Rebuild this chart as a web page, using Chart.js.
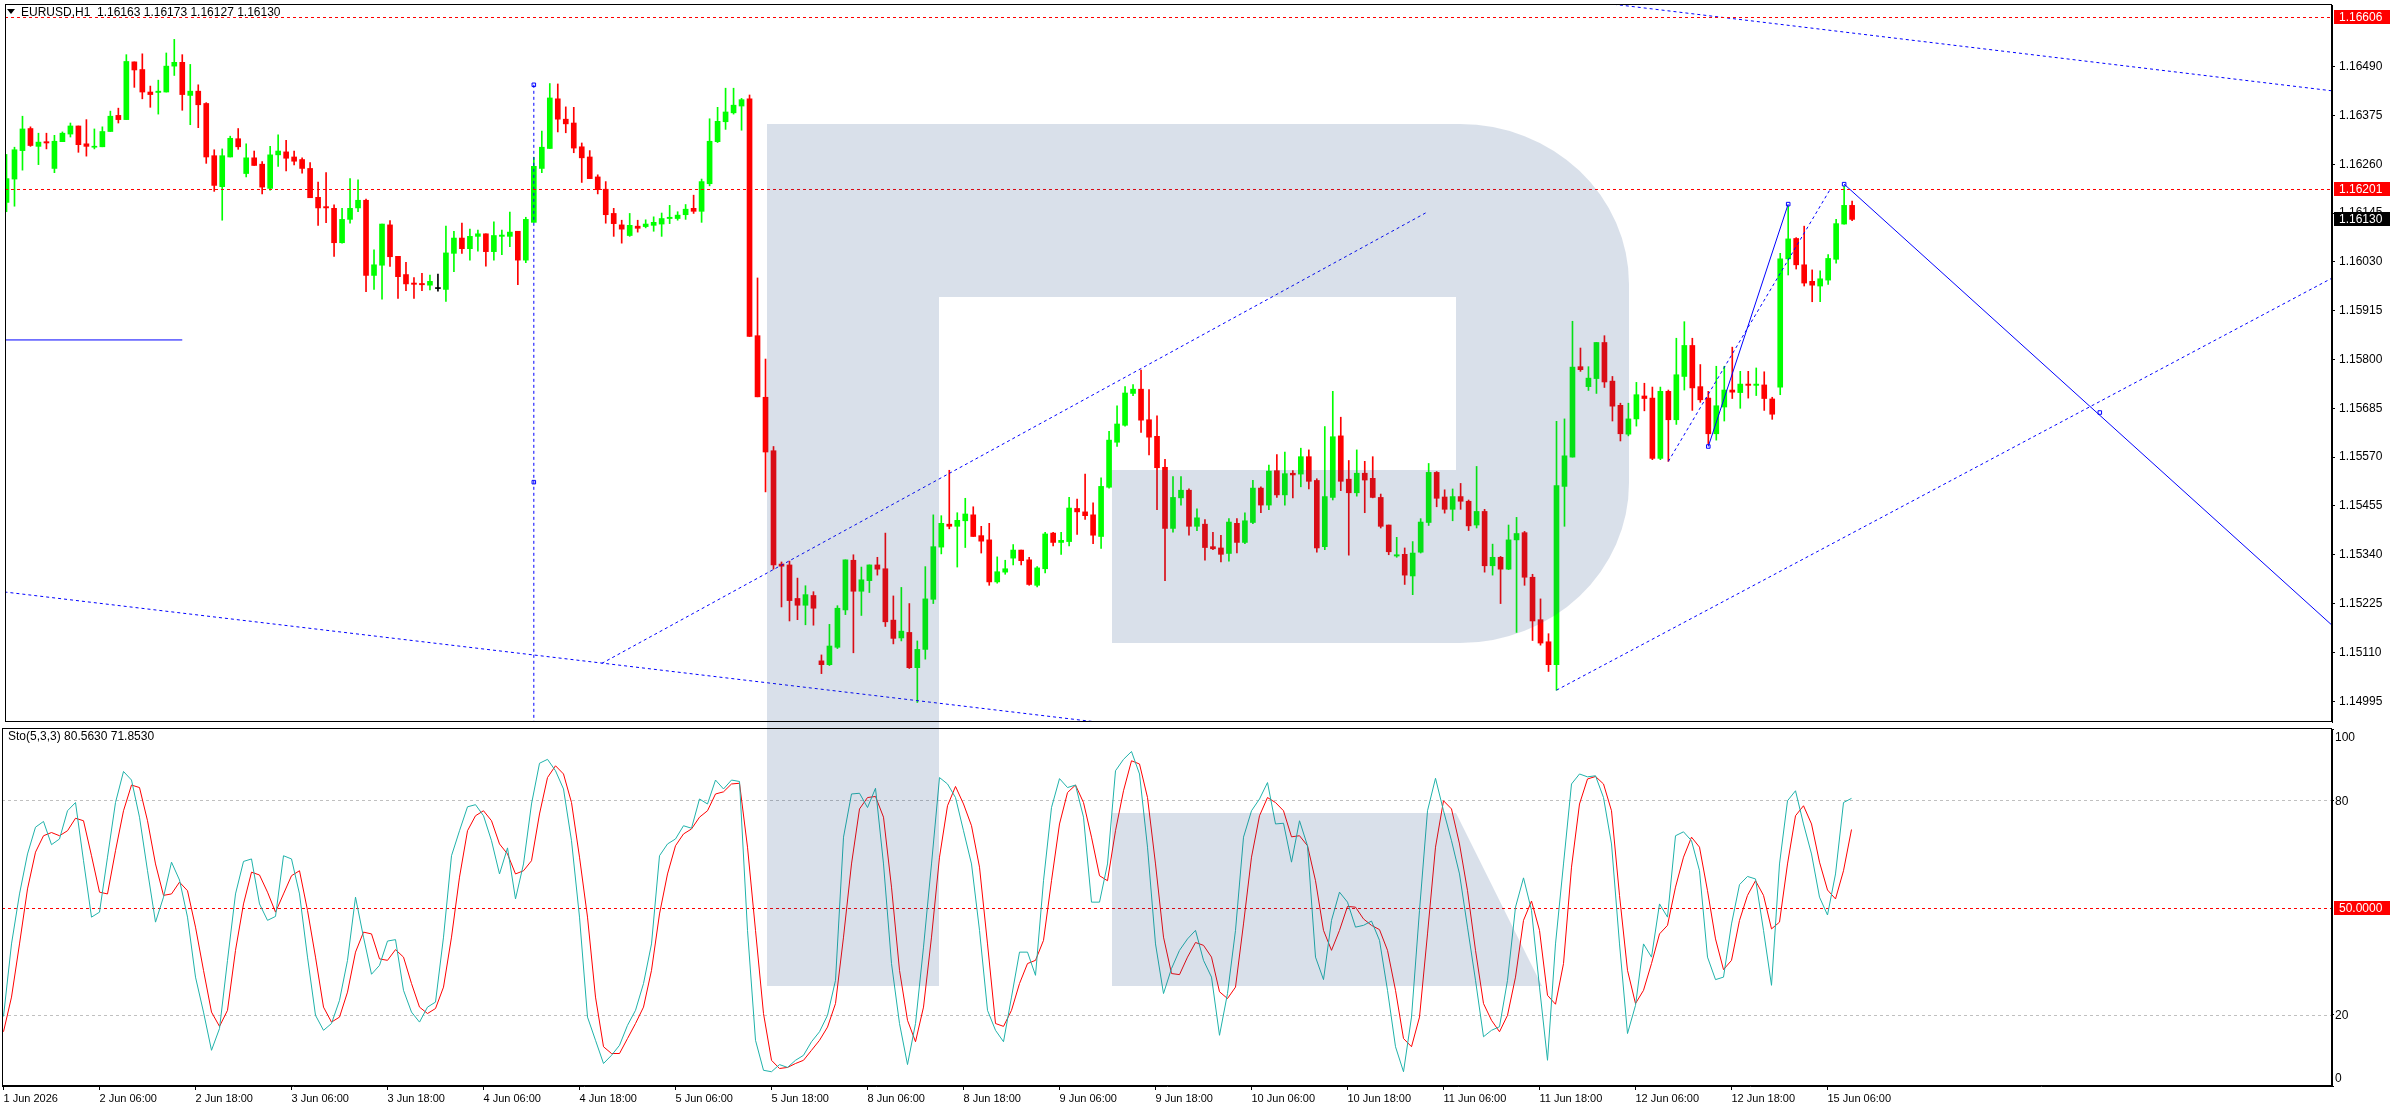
<!DOCTYPE html>
<html lang="en">
<head>
<meta charset="UTF-8">
<title>EURUSD,H1</title>
<script src="https://cdn.jsdelivr.net/npm/chart.js"></script>
<style>
  body { margin: 0; background: #fff; width: 2396px; height: 1110px; overflow: hidden; position: relative; }
  canvas { position: absolute; left: 0; }
  #priceChart { top: 0; }
  #stochChart { top: 727px; }
</style>
</head>
<body>
<canvas id="priceChart" width="2396" height="727"></canvas>
<canvas id="stochChart" width="2396" height="383"></canvas>
<script>
// H1 candles, bar 0 = 1 Jun 18:00, last = 15 Jun 09:00
const opens = [
  1.16170,1.16225,1.16292,1.16344,1.16302,1.16313,1.16250,1.16313,1.16331,1.16350,
  1.16308,1.16300,1.16301,1.16337,1.16375,1.16365,1.16501,1.16483,1.16430,1.16429,
  1.16430,1.16491,1.16500,1.16422,1.16432,1.16403,1.16280,1.16207,1.16277,1.16320,
  1.16238,1.16275,1.16260,1.16203,1.16282,1.16289,1.16277,1.16271,1.16250,1.16182,
  1.16160,1.16156,1.16075,1.16130,1.16157,1.16175,1.15998,1.16022,1.16117,1.16043,
  1.16000,1.15980,1.15979,1.15975,1.15967,1.15965,1.16050,1.16086,1.16061,1.16090,
  1.16096,1.16054,1.16090,1.16090,1.16102,1.16034,1.16123,1.16250,1.16297,1.16414,
  1.16366,1.16357,1.16301,1.16277,1.16230,1.16201,1.16144,1.16117,1.16092,1.16114,
  1.16113,1.16116,1.16119,1.16132,1.16132,1.16141,1.16156,1.16149,1.16214,1.16313,
  1.16360,1.16381,1.16397,1.16414,1.15856,1.15711,1.15585,1.15318,1.15316,1.15237,
  1.15221,1.15244,1.15090,1.15081,1.15122,1.15210,1.15327,1.15254,1.15279,1.15316,
  1.15307,1.15186,1.15144,1.15157,1.15074,1.15117,1.15235,1.15358,1.15412,1.15407,
  1.15420,1.15434,1.15385,1.15375,1.15276,1.15299,1.15332,1.15351,1.15328,1.15268,
  1.15307,1.15391,1.15369,1.15371,1.15449,1.15441,1.15434,1.15383,1.15499,1.15605,
  1.15645,1.15720,1.15730,1.15658,1.15619,1.15546,1.15402,1.15474,1.15492,1.15407,
  1.15412,1.15359,1.15356,1.15343,1.15414,1.15369,1.15416,1.15497,1.15457,1.15538,
  1.15481,1.15532,1.15530,1.15571,1.15515,1.15359,1.15475,1.15620,1.15518,1.15486,
  1.15532,1.15520,1.15475,1.15410,1.15337,1.15341,1.15290,1.15346,1.15416,1.15534,
  1.15476,1.15447,1.15477,1.15466,1.15410,1.15442,1.15314,1.15334,1.15306,1.15375,
  1.15392,1.15287,1.15187,1.15135,1.15081,1.15501,1.15570,1.15783,1.15736,1.15755,
  1.15840,1.15749,1.15692,1.15624,1.15660,1.15714,1.15709,1.15567,1.15725,1.15658,
  1.15760,1.15833,1.15736,1.15709,1.15625,1.15688,1.15728,1.15722,1.15742,1.15739,
  1.15740,1.15707,1.15735,1.16037,1.16085,1.16023,1.15984,1.15973,1.15987,1.16036,
  1.16119,1.16163
];
const highs = [
  1.16283,1.16300,1.16373,1.16348,1.16333,1.16333,1.16328,1.16336,1.16357,1.16350,
  1.16365,1.16343,1.16348,1.16385,1.16392,1.16518,1.16501,1.16520,1.16444,1.16458,
  1.16522,1.16554,1.16518,1.16495,1.16447,1.16405,1.16294,1.16296,1.16326,1.16344,
  1.16308,1.16291,1.16266,1.16302,1.16329,1.16316,1.16291,1.16275,1.16264,1.16218,
  1.16240,1.16164,1.16156,1.16226,1.16223,1.16178,1.16058,1.16119,1.16127,1.16043,
  1.16029,1.15993,1.16003,1.15999,1.16001,1.16114,1.16102,1.16121,1.16107,1.16105,
  1.16096,1.16124,1.16105,1.16147,1.16102,1.16135,1.16276,1.16338,1.16450,1.16449,
  1.16395,1.16394,1.16310,1.16292,1.16235,1.16219,1.16156,1.16128,1.16144,1.16128,
  1.16129,1.16136,1.16145,1.16163,1.16148,1.16165,1.16187,1.16225,1.16367,1.16394,
  1.16439,1.16439,1.16415,1.16423,1.15992,1.15801,1.15595,1.15323,1.15325,1.15285,
  1.15267,1.15253,1.15104,1.15176,1.15220,1.15328,1.15340,1.15311,1.15316,1.15334,
  1.15391,1.15243,1.15263,1.15225,1.15137,1.15312,1.15434,1.15432,1.15539,1.15439,
  1.15473,1.15453,1.15407,1.15414,1.15335,1.15327,1.15364,1.15351,1.15334,1.15312,
  1.15393,1.15393,1.15393,1.15475,1.15471,1.15530,1.15462,1.15521,1.15631,1.15691,
  1.15736,1.15741,1.15775,1.15729,1.15667,1.15565,1.15524,1.15524,1.15495,1.15448,
  1.15423,1.15393,1.15386,1.15425,1.15425,1.15439,1.15515,1.15500,1.15551,1.15576,
  1.15582,1.15538,1.15591,1.15587,1.15519,1.15642,1.15725,1.15664,1.15562,1.15587,
  1.15560,1.15571,1.15483,1.15410,1.15381,1.15356,1.15371,1.15425,1.15555,1.15536,
  1.15493,1.15495,1.15508,1.15469,1.15548,1.15447,1.15365,1.15336,1.15410,1.15428,
  1.15395,1.15294,1.15236,1.15154,1.15654,1.15660,1.15890,1.15827,1.15783,1.15840,
  1.15856,1.15760,1.15697,1.15697,1.15746,1.15744,1.15735,1.15735,1.15728,1.15850,
  1.15889,1.15850,1.15788,1.15725,1.15784,1.15784,1.15829,1.15772,1.15772,1.15780,
  1.15771,1.15711,1.16050,1.16166,1.16087,1.16114,1.16011,1.16009,1.16047,1.16130,
  1.16213,1.16173
];
const lows = [
  1.16148,1.16161,1.16246,1.16302,1.16259,1.16296,1.16240,1.16313,1.16324,1.16288,
  1.16279,1.16296,1.16301,1.16337,1.16357,1.16365,1.16441,1.16414,1.16394,1.16378,
  1.16430,1.16469,1.16387,1.16353,1.16346,1.16262,1.16196,1.16128,1.16277,1.16295,
  1.16230,1.16257,1.16190,1.16199,1.16255,1.16244,1.16258,1.16239,1.16181,1.16116,
  1.16122,1.16043,1.16074,1.16121,1.16148,1.15960,1.15965,1.15942,1.16019,1.15944,
  1.15962,1.15944,1.15962,1.15964,1.15961,1.15937,1.16007,1.16050,1.16034,1.16055,
  1.16020,1.16034,1.16047,1.16066,1.15976,1.16028,1.16123,1.16240,1.16297,1.16336,
  1.16334,1.16287,1.16217,1.16226,1.16190,1.16121,1.16090,1.16074,1.16090,1.16100,
  1.16110,1.16102,1.16090,1.16120,1.16128,1.16130,1.16144,1.16123,1.16209,1.16311,
  1.16342,1.16378,1.16340,1.15854,1.15712,1.15488,1.15306,1.15217,1.15184,1.15187,
  1.15175,1.15174,1.15060,1.15079,1.15119,1.15199,1.15109,1.15197,1.15251,1.15292,
  1.15171,1.15130,1.15137,1.15072,1.14992,1.15094,1.15225,1.15342,1.15401,1.15311,
  1.15357,1.15383,1.15344,1.15268,1.15273,1.15294,1.15316,1.15316,1.15268,1.15264,
  1.15297,1.15361,1.15341,1.15361,1.15388,1.15423,1.15366,1.15355,1.15497,1.15595,
  1.15643,1.15715,1.15628,1.15575,1.15446,1.15279,1.15393,1.15457,1.15386,1.15397,
  1.15327,1.15352,1.15323,1.15325,1.15344,1.15366,1.15413,1.15439,1.15446,1.15475,
  1.15457,1.15474,1.15500,1.15495,1.15346,1.15352,1.15469,1.15491,1.15339,1.15478,
  1.15439,1.15474,1.15403,1.15340,1.15334,1.15270,1.15246,1.15344,1.15409,1.15453,
  1.15438,1.15420,1.15447,1.15397,1.15403,1.15299,1.15292,1.15225,1.15305,1.15157,
  1.15268,1.15138,1.15127,1.15065,1.15021,1.15407,1.15570,1.15772,1.15727,1.15720,
  1.15734,1.15655,1.15608,1.15620,1.15643,1.15679,1.15564,1.15564,1.15560,1.15647,
  1.15728,1.15680,1.15699,1.15593,1.15610,1.15655,1.15708,1.15685,1.15709,1.15715,
  1.15680,1.15659,1.15717,1.15999,1.16013,1.15973,1.15936,1.15936,1.15977,1.16027,
  1.16119,1.16127
];
const closes = [
  1.16226,1.16294,1.16343,1.16304,1.16312,1.16310,1.16314,1.16333,1.16350,1.16306,
  1.16302,1.16302,1.16337,1.16373,1.16365,1.16502,1.16482,1.16430,1.16424,1.16432,
  1.16491,1.16500,1.16424,1.16432,1.16400,1.16277,1.16210,1.16280,1.16321,1.16301,
  1.16275,1.16257,1.16206,1.16282,1.16291,1.16274,1.16267,1.16250,1.16181,1.16157,
  1.16157,1.16075,1.16130,1.16156,1.16175,1.15998,1.16023,1.16119,1.16042,1.15995,
  1.15978,1.15977,1.15976,1.15984,1.15967,1.16051,1.16086,1.16061,1.16090,1.16096,
  1.16054,1.16092,1.16093,1.16100,1.16034,1.16130,1.16255,1.16300,1.16416,1.16366,
  1.16355,1.16298,1.16275,1.16226,1.16200,1.16141,1.16120,1.16107,1.16116,1.16109,
  1.16119,1.16123,1.16132,1.16135,1.16140,1.16154,1.16149,1.16219,1.16314,1.16361,
  1.16383,1.16399,1.16412,1.15854,1.15712,1.15582,1.15316,1.15313,1.15232,1.15221,
  1.15246,1.15214,1.15081,1.15125,1.15214,1.15328,1.15254,1.15281,1.15316,1.15306,
  1.15182,1.15143,1.15160,1.15074,1.15117,1.15236,1.15359,1.15414,1.15407,1.15421,
  1.15436,1.15383,1.15372,1.15276,1.15300,1.15307,1.15351,1.15326,1.15270,1.15309,
  1.15389,1.15369,1.15374,1.15450,1.15441,1.15432,1.15386,1.15501,1.15610,1.15648,
  1.15721,1.15730,1.15657,1.15617,1.15545,1.15402,1.15475,1.15492,1.15407,1.15427,
  1.15357,1.15354,1.15341,1.15417,1.15369,1.15420,1.15497,1.15457,1.15537,1.15481,
  1.15531,1.15528,1.15571,1.15513,1.15356,1.15477,1.15618,1.15513,1.15486,1.15532,
  1.15516,1.15475,1.15407,1.15347,1.15340,1.15292,1.15344,1.15417,1.15534,1.15473,
  1.15447,1.15477,1.15466,1.15408,1.15442,1.15314,1.15334,1.15306,1.15375,1.15390,
  1.15287,1.15184,1.15132,1.15081,1.15503,1.15573,1.15782,1.15776,1.15756,1.15840,
  1.15747,1.15690,1.15625,1.15660,1.15717,1.15708,1.15567,1.15725,1.15658,1.15764,
  1.15833,1.15733,1.15705,1.15625,1.15691,1.15728,1.15723,1.15742,1.15739,1.15742,
  1.15708,1.15671,1.16037,1.16084,1.16023,1.15980,1.15975,1.15990,1.16038,1.16120,
  1.16163,1.16130
];

// Stochastic (5,3,3): main (%K) and signal (%D)
const stochMain = [
  19.5,39.8,53.8,65.0,72.5,74.1,67.6,69.2,77.1,79.4,
  63.1,47.3,48.7,64.1,79.4,88.1,85.7,75.3,60.3,45.9,
  52.9,62.7,57.7,47.3,30.5,20.7,10.0,16.1,35.2,53.8,
  62.9,63.6,51.0,46.4,47.5,64.5,63.6,53.8,36.1,19.8,
  15.6,17.5,24.0,35.2,52.9,41.7,31.3,33.8,40.6,41.0,
  26.8,20.7,17.9,22.1,23.5,41.7,64.5,71.5,78.2,78.8,
  75.7,68.7,59.4,66.7,52.4,62.2,79.0,90.4,91.5,88.3,
  83.2,68.7,47.3,19.3,12.8,6.3,8.6,11.4,17.0,21.2,
  28.7,39.8,64.5,67.8,69.2,72.9,72.2,80.4,79.0,85.7,
  83.2,85.7,85.3,43.6,12.8,4.4,4.0,6.0,5.2,7.2,
  8.6,12.4,15.2,19.8,29.6,69.7,81.8,82.0,78.0,83.4,
  62.2,34.3,17.5,6.0,17.5,38.9,62.2,86.4,84.6,80.8,
  71.5,62.2,43.6,21.2,15.6,12.4,24.9,37.5,37.5,31.0,
  57.5,78.0,86.1,83.6,84.3,75.3,51.5,51.5,62.2,88.3,
  91.5,93.7,87.4,66.9,39.8,25.9,32.9,38.0,41.2,43.6,
  35.2,30.5,14.2,25.9,43.6,69.7,77.1,80.4,85.0,73.4,
  73.6,62.7,74.3,67.3,36.1,29.8,46.4,54.3,51.5,44.5,
  45.0,46.2,40.8,26.8,11.0,4.0,19.3,49.2,77.1,86.2,
  77.1,68.7,59.4,44.5,29.6,13.8,15.6,16.6,29.6,50.1,
  58.3,49.2,27.7,7.2,39.8,62.2,84.6,87.4,86.6,86.9,
  80.8,67.8,39.8,14.7,22.6,39.8,36.1,51.0,47.3,70.1,
  71.2,68.7,60.3,36.1,29.8,30.5,45.4,56.4,58.7,58.0,
  43.6,28.2,62.2,79.9,82.7,73.4,65.0,52.9,47.9,59.4,
  79.4,80.563
];
const stochSignal = [
  15.2,24.9,39.8,55.2,65.5,70.1,71.0,70.1,71.5,75.0,
  74.3,64.5,54.3,53.8,65.9,77.1,84.3,83.6,74.3,62.2,
  53.4,53.8,57.1,54.7,44.5,32.4,20.7,16.7,21.2,38.0,
  51.0,59.9,59.1,54.3,48.7,53.8,58.9,60.3,49.2,36.1,
  22.1,17.9,19.3,26.3,37.5,43.1,42.6,35.6,35.2,38.2,
  36.1,28.7,22.1,20.3,21.7,27.7,41.7,58.5,71.5,75.7,
  77.1,74.3,67.8,65.0,59.4,60.3,63.1,76.2,86.4,89.7,
  87.4,79.4,64.1,47.3,24.9,11.0,9.1,9.1,13.3,17.5,
  22.1,32.4,48.2,59.4,67.3,70.6,72.0,75.3,77.1,81.8,
  82.4,84.6,84.8,66.9,43.6,20.3,7.2,4.9,5.2,6.3,
  7.2,10.0,12.8,16.5,23.1,41.7,62.2,77.6,80.8,81.1,
  75.3,55.7,32.4,18.4,12.4,22.1,41.7,64.1,78.5,83.9,
  79.0,72.9,61.3,39.8,17.5,16.7,21.2,28.7,34.3,35.2,
  40.8,57.5,73.4,82.2,84.3,79.4,69.7,58.9,57.5,71.5,
  82.7,91.1,90.2,80.8,62.2,41.7,31.5,31.2,36.1,40.2,
  39.4,36.1,26.4,24.5,27.7,45.4,64.1,75.7,80.8,79.4,
  77.1,69.8,70.1,67.3,57.5,43.6,38.0,43.6,50.3,50.1,
  46.8,45.0,43.8,38.0,26.8,13.3,11.0,19.3,42.6,66.9,
  79.9,77.6,67.8,54.7,38.0,23.1,18.4,15.2,19.8,30.5,
  46.4,51.8,43.6,25.4,22.9,34.3,61.3,79.0,86.0,86.7,
  84.6,77.1,53.4,32.4,23.1,26.8,34.3,42.6,45.0,55.7,
  64.1,69.7,66.9,54.7,41.2,32.6,35.2,46.4,53.4,57.5,
  53.4,44.0,45.9,62.2,75.7,78.5,73.4,62.7,54.9,52.4,
  60.3,71.853
];

// axis ticks
const priceTicks = [1.14995,1.15110,1.15225,1.15340,1.15455,1.15570,1.15685,
                    1.15800,1.15915,1.16030,1.16145,1.16260,1.16375,1.16490];
const stochTicks = [0, 20, 80, 100];
const stochLevels = [20, 50, 80];
const tickBars = [0,12,24,36,48,60,72,84,96,108,120,132,144,156,168,180,192,204,216,228];
const timeLabels = ['1 Jun 2026','2 Jun 06:00','2 Jun 18:00','3 Jun 06:00','3 Jun 18:00',
  '4 Jun 06:00','4 Jun 18:00','5 Jun 06:00','5 Jun 18:00','8 Jun 06:00','8 Jun 18:00',
  '9 Jun 06:00','9 Jun 18:00','10 Jun 06:00','10 Jun 18:00','11 Jun 06:00','11 Jun 18:00',
  '12 Jun 06:00','12 Jun 18:00','15 Jun 06:00'];

// horizontal price levels
const redLevels = [1.16606, 1.16201];

// drawn objects, [bar, price]
const flatLine   = [[-1, 1.15846], [22, 1.15846]];
const vertLine   = [[66, 1.16447], [66, 1.14900]];
const fallLine   = [[-1, 1.15254], [136, 1.14947]];
const riseLine   = [[74.5, 1.15084], [177.8, 1.16147]];
const topLine    = [[190, 1.16662], [291, 1.16433]];
const supportLine = [[194, 1.15021], [292, 1.16001]];
const waveUp     = [[213, 1.15595], [223, 1.16166]];
const waveUpDot  = [[208, 1.15560], [228.2, 1.16199]];
const waveDown   = [[230, 1.16213], [292, 1.15158]];
const anchors    = [[66, 1.16447], [66, 1.15511], [213, 1.15595], [223, 1.16166], [230, 1.16213], [262, 1.15675]];

const UP = '#00ff00', DOWN = '#ff0000', DOJI = '#000000', BLUE = '#0000ff';
const X_MIN = -0.1875, X_MAX = 291.0625;
const FONT = '"Liberation Sans", Arial, sans-serif';

Chart.defaults.font.family = FONT;
Chart.defaults.color = '#000';

const bars = opens.map((_, i) => i);
const last = opens.length - 1;
const candleColor = bars.map(i => closes[i] > opens[i] ? UP : (closes[i] < opens[i] ? DOWN : DOJI));
const pts = arr => arr.map(([x, y]) => ({ x, y }));

function objLine(points, dashed) {
  return {
    type: 'line', data: pts(points), borderColor: BLUE, borderWidth: 1,
    borderDash: dashed ? [3, 3] : [], pointRadius: 0, fill: false, order: 0, tension: 0
  };
}

// no label overhang padding, fixed axis box
function fixBox(size) {
  return s => {
    if (s.isHorizontal()) { s.height = size; } else { s.width = size; }
    s.paddingTop = 0; s.paddingBottom = 0; s.paddingLeft = 0; s.paddingRight = 0;
  };
}

// RoboForex style watermark, page pixel geometry
function drawWatermark(ctx, offsetY) {
  ctx.save();
  ctx.translate(0, -offsetY);
  ctx.fillStyle = 'rgba(30,70,130,0.17)';
  ctx.beginPath();
  ctx.moveTo(767, 124);
  ctx.lineTo(1460, 124);
  ctx.ellipse(1460, 284, 169, 160, 0, -Math.PI / 2, 0, false);
  ctx.lineTo(1629, 483);
  ctx.ellipse(1460, 483, 169, 160, 0, 0, Math.PI / 2, false);
  ctx.lineTo(1112, 643);
  ctx.lineTo(1112, 470);
  ctx.lineTo(1456, 470);
  ctx.lineTo(1456, 297);
  ctx.lineTo(939, 297);
  ctx.lineTo(939, 986);
  ctx.lineTo(767, 986);
  ctx.closePath();
  ctx.moveTo(1112, 813);
  ctx.lineTo(1456, 813);
  ctx.lineTo(1542, 986);
  ctx.lineTo(1112, 986);
  ctx.closePath();
  ctx.fill();
  ctx.restore();
}

function frame(ctx, a) {
  ctx.strokeStyle = '#000';
  ctx.lineWidth = 1;
  ctx.setLineDash([]);
  ctx.strokeRect(Math.round(a.left) + 0.5, Math.round(a.top) - 0.5,
                 Math.round(a.right - a.left) - 1, Math.round(a.bottom - a.top));
}

function tag(ctx, x, yc, text, bg) {
  const y = Math.round(yc);
  ctx.fillStyle = bg;
  ctx.fillRect(x, y - 7, 56, 14);
  ctx.fillStyle = '#fff';
  ctx.font = '12px ' + FONT;
  ctx.textAlign = 'left';
  ctx.textBaseline = 'middle';
  ctx.fillText(text, x + 5, y + 1);
}

function hLevel(ctx, a, py, color) {
  const y = Math.round(py) + 0.5;
  ctx.strokeStyle = color;
  ctx.lineWidth = 1;
  ctx.setLineDash([3, 3]);
  ctx.beginPath();
  ctx.moveTo(a.left, y);
  ctx.lineTo(a.right, y);
  ctx.stroke();
  ctx.setLineDash([]);
}

const priceDecor = {
  id: 'priceDecor',
  afterDatasetsDraw(chart) {
    const { ctx, chartArea: a, scales: { y } } = chart;
    ctx.save();
    redLevels.forEach(v => hLevel(ctx, a, y.getPixelForValue(v), '#ff0000'));
    drawWatermark(ctx, 0);
    ctx.restore();
  },
  afterDraw(chart) {
    const { ctx, chartArea: a, scales: { y } } = chart;
    ctx.save();
    frame(ctx, a);
    // header
    ctx.fillStyle = '#000';
    ctx.beginPath();
    ctx.moveTo(7, 9); ctx.lineTo(15, 9); ctx.lineTo(11, 14); ctx.closePath();
    ctx.fill();
    ctx.font = '12px ' + FONT;
    ctx.textAlign = 'left';
    ctx.textBaseline = 'middle';
    const ohlc = [opens[last], highs[last], lows[last], closes[last]].map(v => v.toFixed(5)).join(' ');
    ctx.fillText('EURUSD,H1  ' + ohlc, 21, 13);
    // price tags
    const x0 = Math.round(a.right) + 2;
    redLevels.forEach(v => tag(ctx, x0, y.getPixelForValue(v), v.toFixed(5), '#ff0000'));
    tag(ctx, x0, y.getPixelForValue(closes[last]), closes[last].toFixed(5), '#000000');
    ctx.restore();
  }
};

new Chart(document.getElementById('priceChart'), {
  type: 'bar',
  data: {
    datasets: [
      {
        label: 'wick', data: bars.map(i => ({ x: i, y: [lows[i], highs[i]] })),
        backgroundColor: candleColor, barThickness: 1, grouped: false, order: 3
      },
      {
        label: 'body', data: bars.map(i => ({ x: i, y: [opens[i], closes[i]] })),
        backgroundColor: candleColor, barThickness: 5, minBarLength: 1, grouped: false, order: 2
      },
      objLine(flatLine, false),
      objLine(vertLine, true),
      objLine(fallLine, true),
      objLine(riseLine, true),
      objLine(topLine, true),
      objLine(supportLine, true),
      objLine(waveUp, false),
      objLine(waveUpDot, true),
      objLine(waveDown, false),
      {
        type: 'line', data: pts(anchors), showLine: false, pointStyle: 'rect',
        pointRadius: 2.5, pointBackgroundColor: '#ffffff', pointBorderColor: BLUE,
        pointBorderWidth: 1, order: 0
      }
    ]
  },
  options: {
    responsive: false,
    animation: false,
    devicePixelRatio: 1,
    layout: { padding: { left: 2, top: 2, right: 0, bottom: 1 } },
    plugins: { legend: { display: false }, tooltip: { enabled: false } },
    scales: {
      x: { type: 'linear', min: X_MIN, max: X_MAX, offset: false, display: false, grid: { offset: false } },
      y: {
        position: 'right', min: 1.14946, max: 1.16635,
        afterBuildTicks: s => { s.ticks = priceTicks.map(v => ({ value: v })); },
        afterFit: fixBox(64),
        ticks: { autoSkip: false, padding: 4, font: { size: 12 }, color: '#000', callback: v => v.toFixed(5) },
        grid: { drawOnChartArea: false, drawTicks: true, tickLength: 3, color: '#000' },
        border: { display: true, color: '#000' }
      }
    }
  },
  plugins: [priceDecor]
});

const stochDecor = {
  id: 'stochDecor',
  beforeDatasetsDraw(chart) {
    const { ctx, chartArea: a, scales: { y } } = chart;
    ctx.save();
    stochLevels.forEach(v => hLevel(ctx, a, y.getPixelForValue(v), v === 50 ? '#ff0000' : '#c0c0c0'));
    ctx.restore();
  },
  afterDatasetsDraw(chart) {
    drawWatermark(chart.ctx, 727);
  },
  afterDraw(chart) {
    const { ctx, chartArea: a, scales: { y } } = chart;
    ctx.save();
    frame(ctx, a);
    ctx.fillStyle = '#000';
    ctx.font = '12px ' + FONT;
    ctx.textAlign = 'left';
    ctx.textBaseline = 'middle';
    ctx.fillText('Sto(5,3,3) ' + stochMain[last].toFixed(4) + ' ' + stochSignal[last].toFixed(4), 8, 10);
    const lx = Math.round(a.right) + 3;
    stochTicks.forEach(v => {
      let py = y.getPixelForValue(v);
      if (v === 100) py += 8;
      if (v === 0) py -= 8;
      ctx.fillStyle = '#000';
      ctx.fillText(String(v), lx, py + 1);
    });
    tag(ctx, Math.round(a.right) + 2, y.getPixelForValue(50), (50).toFixed(4), '#ff0000');
    ctx.restore();
  }
};

new Chart(document.getElementById('stochChart'), {
  type: 'line',
  data: {
    datasets: [
      { label: 'Main', data: bars.map(i => ({ x: i, y: stochMain[i] })), borderColor: '#20b2aa',
        borderWidth: 1, pointRadius: 0, tension: 0, fill: false },
      { label: 'Signal', data: bars.map(i => ({ x: i, y: stochSignal[i] })), borderColor: '#ff0000',
        borderWidth: 1, pointRadius: 0, tension: 0, fill: false }
    ]
  },
  options: {
    responsive: false,
    animation: false,
    devicePixelRatio: 1,
    layout: { padding: { left: 2, top: 2, right: 0, bottom: 0 } },
    plugins: { legend: { display: false }, tooltip: { enabled: false } },
    scales: {
      x: {
        type: 'linear', min: X_MIN, max: X_MAX, offset: false,
        afterBuildTicks: s => { s.ticks = tickBars.map(v => ({ value: v })); },
        afterFit: fixBox(24),
        ticks: {
          autoSkip: false, maxRotation: 0, minRotation: 0, align: 'start', padding: 2,
          font: { size: 11 }, color: '#000',
          callback: v => timeLabels[tickBars.indexOf(v)] || ''
        },
        grid: { drawOnChartArea: false, drawTicks: true, tickLength: 4, color: '#000' },
        border: { display: true, color: '#000' }
      },
      y: {
        position: 'right', min: 0, max: 100,
        afterBuildTicks: s => { s.ticks = stochTicks.map(v => ({ value: v })); },
        afterFit: fixBox(64),
        ticks: { callback: () => '' },
        grid: { drawOnChartArea: false, drawTicks: true, tickLength: 2, color: '#000' },
        border: { display: true, color: '#000' }
      }
    }
  },
  plugins: [stochDecor]
});
</script>
</body>
</html>
